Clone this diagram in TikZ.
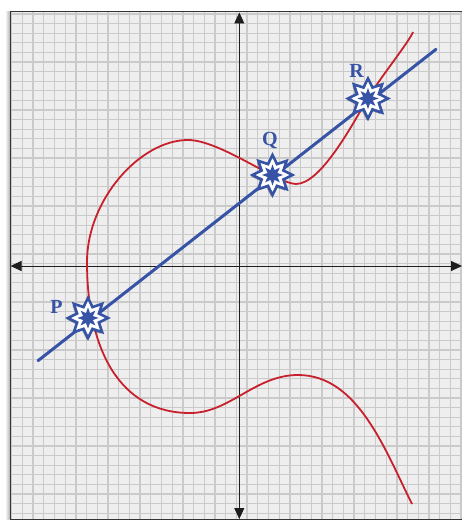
\documentclass[tikz,border=0pt]{standalone}
\usepackage{fontspec}
\setmainfont{Liberation Serif}
\usetikzlibrary{arrows.meta,shapes.geometric,shadows}
\definecolor{bgc}{HTML}{EEEEEE}
\definecolor{gridc}{HTML}{CACACA}
\definecolor{lineblue}{HTML}{3653A5}
\definecolor{curvered}{HTML}{C8202C}
\definecolor{axisc}{HTML}{1E1E1E}
\tikzset{
  gridline/.style={gridc, line width=1.3pt},
  axisline/.style={axisc, line width=0.9pt, {Triangle[length=11pt,width=10pt]}-{Triangle[length=11pt,width=10pt]}},
  curveline/.style={curvered, line width=1.8pt},
  secant/.style={lineblue, line width=3pt, line cap=round},
  starout/.style={star, star points=8, star point ratio=1.7, minimum size=40pt, inner sep=0pt,
    draw=lineblue, line width=2.6pt, fill=white,
    drop shadow={shadow xshift=-1.5pt, shadow yshift=-1.5pt, fill=black, opacity=0.35}},
  starin/.style={star, star points=8, star point ratio=2, minimum size=21pt, inner sep=0pt, fill=lineblue},
  ptlabel/.style={lineblue, font=\bfseries\fontsize{20}{24}\selectfont, inner sep=0pt}
}
\begin{document}
\begin{tikzpicture}[x=1pt,y=-1pt]
\useasboundingbox (0,0) rectangle (462,521);
\fill[white] (0,0) rectangle (462,521);
\fill[bgc] (10,12) rectangle (462,519);
% grid
\foreach \i in {0,...,42} {
  \pgfmathsetmacro{\gx}{11.7+10.7*\i}
  \draw[gridline] (\gx,12) -- (\gx,519);
}
\foreach \j in {0,...,52} {
  \pgfmathsetmacro{\gy}{14+9.6*\j}
  \draw[gridline] (10,\gy) -- (462,\gy);
}
% frame
\fill[left color=white, right color=gray!55] (5,12) rectangle (9.5,519);
\draw[gray!40!black, line width=1pt] (462,12) -- (10,12) -- (10,519) -- (462,519);
% axes
\coordinate (ytop) at (239.3,12.5);
\coordinate (ybot) at (239.3,519);
\coordinate (xleft) at (10.5,266);
\coordinate (xright) at (462,266);
\draw[axisline] (ybot) -- (ytop);
\draw[axisline] (xleft) -- (xright);
% curve
\draw[curveline]
  (413,32) .. controls (409,42) and (380,78) .. (368,98)
  .. controls (352.7,123.8) and (321,184) .. (296,184)
  .. controls (278,184) and (220,140) .. (188,140)
  .. controls (140,140) and (87,200) .. (87,262)
  .. controls (87,350) and (120,413) .. (190,413)
  .. controls (230,413) and (255,375) .. (298,375)
  .. controls (358,375) and (385,450) .. (412,504);
% secant line
\coordinate (l1) at (38,360.7);
\coordinate (l2) at (436,49.3);
\draw[secant] (l1) -- (l2);
% stars
\node[starout] (P) at (88,318) {};
\node[starin] at (P.center) {};
\node[starout] (Q) at (272.5,175) {};
\node[starin] at (Q.center) {};
\node[starout] (R) at (368,98.5) {};
\node[starin] at (R.center) {};
% labels
\node[ptlabel] (Plab) at (56.5,306.5) {P};
\node[ptlabel] (Qlab) at (270,141) {Q};
\node[ptlabel] (Rlab) at (356.5,70.5) {R};
\end{tikzpicture}
\end{document}
